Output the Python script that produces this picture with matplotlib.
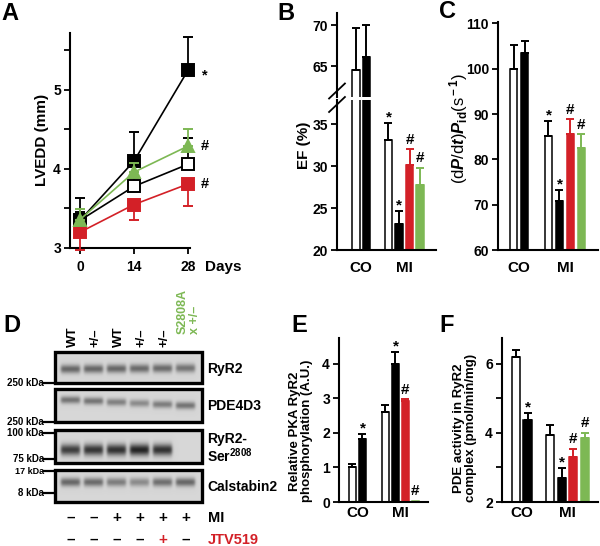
import numpy as np
import matplotlib
matplotlib.use("Agg")
import matplotlib.pyplot as plt
from matplotlib.patches import Rectangle

plt.rcParams['font.family'] = ['Liberation Sans', 'DejaVu Sans']
plt.rcParams['font.weight'] = 'bold'
plt.rcParams['mathtext.fontset'] = 'custom'
plt.rcParams['mathtext.rm'] = 'Liberation Sans'
plt.rcParams['mathtext.it'] = 'Liberation Sans:italic'
plt.rcParams['mathtext.bf'] = 'Liberation Sans:bold'

W, H = 600, 546
RED = '#d32027'
GREEN = '#7db854'

# ---- A: LVEDD over time ----
days = [0, 14, 28]
lvedd_wt = [3.35, 3.78, 4.06]
lvedd_het = [3.35, 4.10, 5.25]
lvedd_het_jtv = [3.20, 3.55, 3.81]
lvedd_s2808a = [3.36, 3.96, 4.29]
lvedd_wt_err = [0.10, 0.10, 0.33]
lvedd_het_err = [0.28, 0.37, 0.42]
lvedd_het_jtv_err = [0.22, 0.20, 0.28]
lvedd_s2808a_err = [0.13, 0.12, 0.22]

# ---- B: ejection fraction ----
groups = ['CO', 'MI']
ef_co = [64.5, 66.1]
ef_co_err = [5.1, 3.9]
ef_mi = [33.1, 23.1, 30.1, 27.7]
ef_mi_err = [2.0, 1.5, 1.9, 2.1]

# ---- C: (dP/dt)/Pid ----
dpdt_co = [100.0, 103.4]
dpdt_co_err = [5.3, 2.8]
dpdt_mi = [85.1, 70.9, 85.7, 82.6]
dpdt_mi_err = [3.4, 2.4, 3.1, 2.9]

# ---- E: PKA phosphorylation ----
pka_co = [1.02, 1.82]
pka_co_err = [0.08, 0.15]
pka_mi = [2.62, 4.0, 2.92, 0.03]
pka_mi_err = [0.2, 0.34, 0.05, 0.0]

# ---- F: PDE activity ----
pde_co = [6.2, 4.38]
pde_co_err = [0.2, 0.2]
pde_mi = [3.94, 2.69, 3.31, 3.84]
pde_mi_err = [0.3, 0.29, 0.22, 0.16]

marks_bc = (['', ''], ['*', '*', '#', '#'])
marks_ef = (['', '*'], ['', '*', '#', '#'])

# ---- D: western blot ----
lane_labels = ['WT', '+/–', 'WT', '+/–', '+/–']
ryr2_band = [0.62, 0.62, 0.62, 0.60, 0.60, 0.55]
pde4d3_band = [0.55, 0.55, 0.48, 0.42, 0.50, 0.55]
ser2808_band = [0.85, 0.90, 0.92, 1.00, 0.92, 0.0]
calstabin2_band = [0.62, 0.60, 0.50, 0.42, 0.58, 0.62]
blot_names = ['RyR2', 'PDE4D3', 'RyR2-\nSer$^{\\mathbf{2808}}$', 'Calstabin2']
mi_status = ['–', '–', '+', '+', '+', '+']
jtv_status = ['–', '–', '–', '–', '+', '–']

fig = plt.figure(figsize=(W / 100, H / 100), dpi=100)


def px_axes(l, t, r, b):
    return fig.add_axes([l / W, 1 - b / H, (r - l) / W, (b - t) / H])


def ftext(x, y, s, **kw):
    fig.text(x / W, 1 - y / H, s, **kw)


def style(ax, bottom=True):
    ax.spines['top'].set_visible(False)
    ax.spines['right'].set_visible(False)
    ax.spines['left'].set_linewidth(1.5)
    ax.spines['bottom'].set_linewidth(1.5)
    ax.spines['bottom'].set_visible(bottom)
    ax.tick_params(width=1.3, length=4.5, labelsize=10, pad=2)
    ax.patch.set_alpha(0)


def draw_bars(ax, co, co_err, mi, mi_err, marks, mi_start, width, show_marks=True):
    fills = ['white', 'black', RED, GREEN]
    edges = ['black', 'black', RED, GREEN]
    xs_co = np.arange(len(co))
    xs_mi = mi_start + np.arange(len(mi))
    for xs, vals, errs, mk in [(xs_co, co, co_err, marks[0]), (xs_mi, mi, mi_err, marks[1])]:
        for i, (x, v, e) in enumerate(zip(xs, vals, errs)):
            ax.bar(x, v, width=width, color=fills[i], edgecolor=edges[i], linewidth=1.1, zorder=2)
            if e > 0:
                ax.errorbar(x, v, yerr=[[0], [e]], color=edges[i], capsize=3.2,
                            elinewidth=1.4, capthick=1.4, zorder=3)
            if show_marks and mk[i]:
                off = -1 if mk[i] == '*' else 2
                ax.annotate(mk[i], (x, v + e), xytext=(0, off), textcoords='offset points',
                            ha='center', va='bottom', fontsize=11, color='black')
    return [0.5, mi_start + 1.5]


# ---------------- A ----------------
axA = px_axes(70, 33, 190, 248)
style(axA)
series = [
    (lvedd_wt, lvedd_wt_err, 'white', 'black', 's', 'up', 3),
    (lvedd_het_jtv, lvedd_het_jtv_err, RED, RED, 's', 'down', 4),
    (lvedd_het, lvedd_het_err, 'black', 'black', 's', 'up', 5),
    (lvedd_s2808a, lvedd_s2808a_err, GREEN, GREEN, '^', 'up', 6),
]
for vals, errs, fc, lc, mk, direction, z in series:
    zero = [0] * len(errs)
    yerr = [zero, errs] if direction == 'up' else [errs, zero]
    axA.errorbar(days, vals, yerr=yerr, color=lc, lw=1.2, capsize=3.5,
                 elinewidth=1.3, capthick=1.3, marker=mk, ms=8.5 if mk == '^' else 8,
                 mfc=fc, mec=lc, mew=1.4, zorder=z, clip_on=False)
axA.set_xlim(-2.6, 28.5)
axA.set_ylim(3, 5.72)
axA.set_xticks(days)
axA.set_yticks([3, 3.5, 4, 4.5, 5, 5.5])
axA.set_yticklabels(['3', '', '4', '', '5', ''])
axA.tick_params(axis='x', pad=4)
for vals, s, dy in [(lvedd_het, '*', -4), (lvedd_s2808a, '#', 0), (lvedd_het_jtv, '#', 0)]:
    axA.annotate(s, (days[-1], vals[-1]), xytext=(12, dy), textcoords='offset points',
                 ha='center', va='center', fontsize=10.5, annotation_clip=False)
ftext(42, 140, 'LVEDD (mm)', rotation=90, ha='center', va='center', fontsize=11)
ftext(205, 267, 'Days', ha='left', va='center', fontsize=11)

# ---------------- B (broken axis) ----------------
axBu = px_axes(337, 13, 436, 97)
axBl = px_axes(337, 100, 436, 250)
style(axBu, bottom=False)
style(axBl)
for ax in (axBu, axBl):
    centers = draw_bars(ax, ef_co, ef_co_err, ef_mi, ef_mi_err, marks_bc, 3.1, 0.72,
                        show_marks=(ax is axBl))
    ax.set_xlim(-1.8, 7.62)
axBu.set_ylim(61.2, 71.5)
axBu.set_yticks([65, 70])
axBu.set_xticks([])
axBl.set_ylim(20, 37.9)
axBl.set_yticks([20, 25, 30, 35])
axBl.set_xticks(centers)
axBl.set_xticklabels(groups, fontsize=11)
axBl.tick_params(axis='x', length=0, pad=8)
# break marks on the left spine
for dy in (-0.03, 0.06):
    axBl.plot([-0.08, 0.08], [1.0 + dy - 0.05, 1.0 + dy + 0.05],
              transform=axBl.transAxes, color='black', lw=1.3, clip_on=False)
ftext(304, 145, 'EF (%)', rotation=90, ha='center', va='center', fontsize=11)

# ---------------- C ----------------
axC = px_axes(498, 22, 598, 250)
style(axC)
centers = draw_bars(axC, dpdt_co, dpdt_co_err, dpdt_mi, dpdt_mi_err, marks_bc, 3.18, 0.68)
axC.set_xlim(-1.41, 7.68)
axC.set_ylim(60, 110.3)
axC.set_yticks(range(60, 111, 10))
axC.set_xticks(centers)
axC.set_xticklabels(groups, fontsize=11)
axC.tick_params(axis='x', length=0, pad=8)
ftext(459, 128, r'(d$\mathit{P}$/d$\mathit{t}$)$\mathit{P}_{\rm id}$(s$^{\rm -1}$)',
      rotation=90, ha='center', va='center', fontsize=12, fontweight='normal')

# ---------------- E ----------------
axE = px_axes(339, 338, 428, 502)
style(axE)
centers = draw_bars(axE, pka_co, pka_co_err, pka_mi, pka_mi_err, marks_ef, 3.3, 0.7)
axE.set_xlim(-1.35, 7.55)
axE.set_ylim(0, 4.75)
axE.set_yticks(range(0, 5))
axE.set_xticks(centers)
axE.set_xticklabels(groups, fontsize=11)
axE.tick_params(axis='x', length=0, pad=3)
ftext(301, 431, 'Relative PKA RyR2\nphosphorylation (A.U.)', rotation=90,
      ha='center', va='center', fontsize=9.5, linespacing=1.1)

# ---------------- F ----------------
axF = px_axes(502, 338, 598, 502)
style(axF)
centers = draw_bars(axF, pde_co, pde_co_err, pde_mi, pde_mi_err, marks_ef, 2.96, 0.7)
axF.set_xlim(-1.22, 7.13)
axF.set_ylim(2, 6.75)
axF.set_yticks([2, 3, 4, 5, 6])
axF.set_yticklabels(['2', '', '4', '', '6'])
axF.set_xticks(centers)
axF.set_xticklabels(groups, fontsize=11)
axF.tick_params(axis='x', length=0, pad=3)
ftext(465, 428, 'PDE activity in RyR2\ncomplex (pmol/min/mg)', rotation=90,
      ha='center', va='center', fontsize=9.5, linespacing=1.1)

# ---------------- D: blot ----------------
axD = fig.add_axes([0, 0, 1, 1])
axD.set_xlim(0, W)
axD.set_ylim(H, 0)
axD.axis('off')

box_l, box_r = 55, 202
lane_x0, lane_step = 70.5, 23.0
boxes = [(352, 383), (389, 422), (430, 463), (470, 502)]
# band centre (fraction of box height, left -> right), band half-thickness in px
band_pos = [(0.55, 0.52, 3.0), (0.33, 0.50, 2.6), (0.60, 0.60, 3.6), (0.38, 0.38, 3.0)]
bands = [ryr2_band, pde4d3_band, ser2808_band, calstabin2_band]
n_lanes = len(ryr2_band)

for (top, bot), (f0, f1, sig), amps, name in zip(boxes, band_pos, bands, blot_names):
    ny, nx = (bot - top) * 4, (box_r - box_l) * 4
    yy = top + (np.arange(ny) + 0.5) / 4
    xx = box_l + (np.arange(nx) + 0.5) / 4
    X, Y = np.meshgrid(xx, yy)
    dark = np.zeros_like(X)
    for i, a in enumerate(amps):
        xc = lane_x0 + i * lane_step
        frac = f0 + (f1 - f0) * i / (n_lanes - 1)
        yc = top + frac * (bot - top)
        s = sig * (1 + 0.35 * (a - 0.6)) if name.startswith('RyR2-') else sig
        prof_x = 0.5 * (np.tanh((X - (xc - 9.5)) / 1.6) - np.tanh((X - (xc + 9.5)) / 1.6))
        dark += a * np.exp(-0.5 * ((Y - yc) / s) ** 2) * prof_x
    dark = np.clip(dark, 0, 1)
    img = 0.84 - dark * (0.84 - 0.14)
    axD.imshow(img, cmap='gray', vmin=0, vmax=1, extent=(box_l, box_r, bot, top),
               interpolation='bilinear', aspect='auto', zorder=1)
    axD.add_patch(Rectangle((box_l, top), box_r - box_l, bot - top, fill=False,
                            lw=2.4, ec='black', zorder=2))
    if '\n' in name:
        axD.text(box_r + 5, (top + bot) / 2 + 2, name, ha='left', va='center',
                 fontsize=10, linespacing=1.0)
    else:
        axD.text(box_r + 5, (top + bot) / 2 + 1, name, ha='left', va='center', fontsize=10)

kda_labels = ['250 kDa', '250 kDa', '100 kDa', '75 kDa', '17 kDa', '8 kDa']
kda_y = [383, 422, 433, 459, 471, 493]
for s, y in zip(kda_labels, kda_y):
    axD.text(44, y, s, ha='right', va='center', fontsize=7 if s != '17 kDa' else 6.5)
    axD.plot([44, box_l], [y, y], color='black', lw=1.6)

for i, s in enumerate(lane_labels):
    axD.text(lane_x0 + i * lane_step + 2, 347, s, rotation=90, ha='center', va='bottom',
             fontsize=9.5)
axD.text(lane_x0 + 5 * lane_step + 3, 334, 'S2808A\nx +/–', rotation=90, ha='center',
         va='bottom', fontsize=9, color=GREEN, multialignment='left', linespacing=1.0)

for i, (m, j) in enumerate(zip(mi_status, jtv_status)):
    x = lane_x0 + i * lane_step
    axD.text(x, 518, m, ha='center', va='center', fontsize=11)
    axD.text(x, 540, j, ha='center', va='center', fontsize=11,
             color=RED if j == '+' else 'black')
axD.text(208, 518, 'MI', ha='left', va='center', fontsize=10.5)
axD.text(208, 540, 'JTV519', ha='left', va='center', fontsize=10.5, color=RED)

# panel letters
for s, x, y in [('A', 10, 13), ('B', 286, 13), ('C', 448, 12),
                ('D', 12, 326), ('E', 299, 326), ('F', 447, 326)]:
    ftext(x, y, s, ha='center', va='center', fontsize=17)

fig.savefig('out.png', dpi=100)
